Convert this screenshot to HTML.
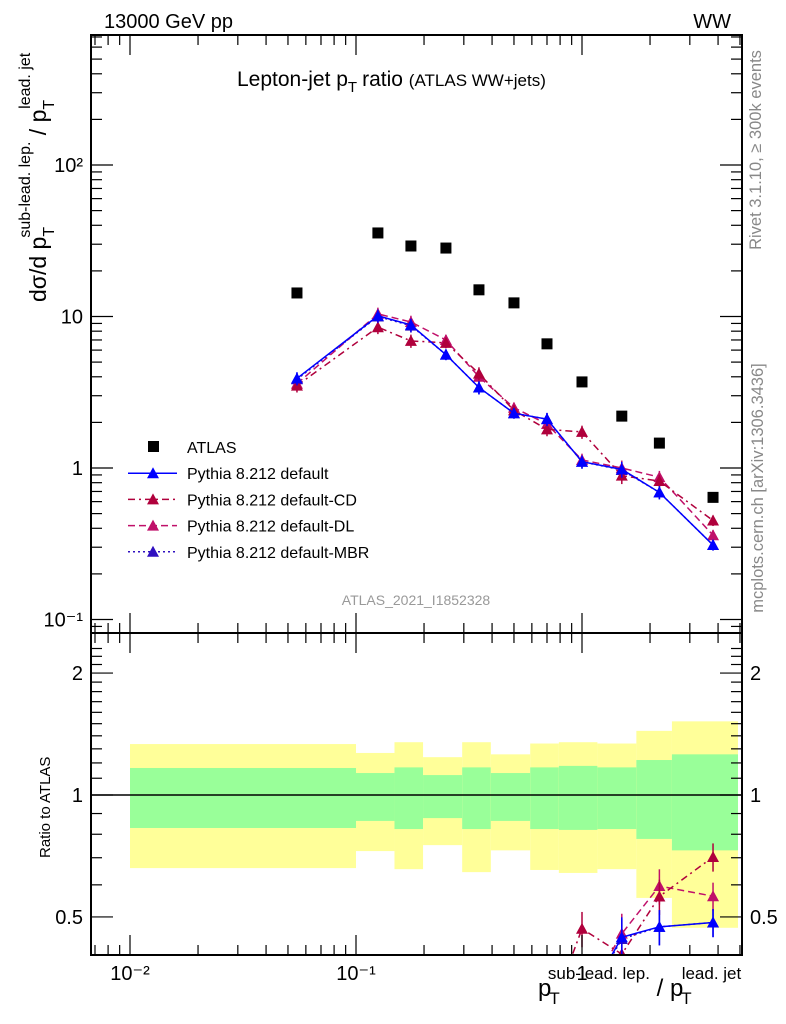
<!DOCTYPE html>
<html><head><meta charset="utf-8"><style>
body{margin:0;background:#fff;overflow:hidden}
svg{display:block;font-family:"Liberation Sans",sans-serif}
</style></head><body>
<svg id="c" width="786" height="1024" xmlns="http://www.w3.org/2000/svg">
<text x="104" y="28" font-size="20">13000 GeV pp</text>
<text x="731" y="28" font-size="20" text-anchor="end">WW</text>
<text x="237" y="86" font-size="21">Lepton-jet p<tspan font-size="15" dy="6">T</tspan><tspan dy="-6" dx="5">ratio </tspan><tspan font-size="17">(ATLAS WW+jets)</tspan></text>
<text transform="translate(761,150) rotate(-90)" font-size="16.5" fill="#888" text-anchor="middle">Rivet 3.1.10, ≥ 300k events</text>
<text transform="translate(763,488) rotate(-90)" font-size="16.5" fill="#888" text-anchor="middle">mcplots.cern.ch [arXiv:1306.3436]</text>
<text x="416" y="605" font-size="14" fill="#999" text-anchor="middle">ATLAS_2021_I1852328</text>
<text transform="translate(46,302) rotate(-90)" font-size="23">dσ/d p<tspan font-size="16" dy="8">T</tspan><tspan font-size="16" dy="-24" dx="-9">sub-lead. lep.</tspan><tspan dy="16" font-size="23"> / p</tspan><tspan font-size="16" dy="8">T</tspan><tspan font-size="16" dy="-24" dx="-9">lead. jet</tspan></text>
<text transform="translate(50,858) rotate(-90)" font-size="15">Ratio to ATLAS</text>
<text x="538" y="996" font-size="24">p<tspan font-size="17" dy="8" dx="-2">T</tspan><tspan font-size="17" dy="-25" dx="-10">sub-lead. lep.</tspan><tspan font-size="24" dy="17"> / p</tspan><tspan font-size="17" dy="8" dx="-2">T</tspan><tspan font-size="17" dy="-25" dx="-10">lead. jet</tspan></text>
<g id="g"></g>
</svg>
<script>
const xVals=[0.0548,0.125,0.175,0.25,0.35,0.5,0.7,1.0,1.5,2.2,3.8];
const binEdges=[0.01,0.1,0.148,0.198,0.295,0.395,0.59,0.79,1.17,1.74,2.5,4.9];
const atlas=[14.3,35.6,29.2,28.3,15.0,12.3,6.6,3.7,2.2,1.46,0.64];
const pyDefault=[3.9,10.1,8.8,5.6,3.4,2.3,2.1,1.1,0.98,0.69,0.31];
const pyCD=[3.5,8.5,6.9,6.7,4.2,2.4,1.8,1.73,0.89,0.82,0.45];
const pyDL=[3.6,10.4,9.2,7.0,4.0,2.5,1.95,1.13,1.0,0.87,0.36];
const pyMBR=[3.85,10.0,8.7,5.6,3.4,2.3,2.1,1.1,0.97,0.69,0.31];
const mcErr=[0.1,0.1,0.1,0.08,0.1,0.08,0.1,0.1,0.12,0.1,0.08];
const yellowHi=[1.336,1.27,1.35,1.24,1.35,1.26,1.34,1.35,1.34,1.44,1.52];
const greenHi=[1.166,1.133,1.17,1.12,1.17,1.133,1.17,1.18,1.17,1.22,1.26];
const greenLo=[0.829,0.863,0.824,0.877,0.824,0.863,0.824,0.82,0.824,0.779,0.73];
const yellowLo=[0.66,0.727,0.656,0.752,0.645,0.73,0.653,0.642,0.656,0.557,0.47];
const yTicksMain=[0.1,1,10,100];
const yTickLabels=["10⁻¹","1","10","10²"];

const L=91,R=742,T=35,MB=633,B=955;
const X=v=>582+226*Math.log10(v);
const Y=v=>468-151.5*Math.log10(v);
const YR=v=>795-405*Math.log10(v);
const NS="http://www.w3.org/2000/svg";
const g=document.getElementById('g');
function mk(tag,at,parent){const e=document.createElementNS(NS,tag);for(const k in at)e.setAttribute(k,at[k]);(parent||g).appendChild(e);return e;}

for(let i=0;i<xVals.length;i++){
  const x0=X(binEdges[i]),x1=X(binEdges[i+1]);
  let r=mk('rect',{x:x0,y:YR(yellowHi[i]),width:x1-x0,height:YR(yellowLo[i])-YR(yellowHi[i]),fill:'#ffff99'});
  
  
  r=mk('rect',{x:x0,y:YR(greenHi[i]),width:x1-x0,height:YR(greenLo[i])-YR(greenHi[i]),fill:'#99ff99'});
  
  
}
mk('line',{x1:L,x2:R,y1:YR(1),y2:YR(1),stroke:'#000','stroke-width':1.5});

const defs=mk('defs',{});
const c1=mk('clipPath',{id:'cm'},defs);mk('rect',{x:L,y:T,width:R-L,height:MB-T},c1);
const c2=mk('clipPath',{id:'cr'},defs);mk('rect',{x:L,y:MB,width:R-L,height:B-MB},c2);
const gm=mk('g',{'clip-path':'url(#cm)'});
const gr=mk('g',{'clip-path':'url(#cr)'});

const series=[
 {d:pyMBR,c:'#3010c0',dash:'2,3',n:'mbr'},
 {d:pyDL,c:'#c0106a',dash:'7,4',n:'dl'},
 {d:pyCD,c:'#b0003c',dash:'7,4,2,4',n:'cd'},
 {d:pyDefault,c:'#0000ff',dash:'',n:'default'}];
function tri(x,y,c,p,name){const t=mk('polygon',{points:`${x-6},${y+5} ${x+6},${y+5} ${x},${y-6}`,fill:c},p);
  
  }
series.forEach(s=>{
  [[gm,v=>Y(v),s.d],[gr,v=>YR(v),s.d.map((v,i)=>v/atlas[i])]].forEach(([p,fy,vals])=>{
    const pl=mk('polyline',{points:vals.map((v,i)=>X(xVals[i])+','+fy(v)).join(' '),fill:'none',stroke:s.c,'stroke-width':1.5,'stroke-dasharray':s.dash},p);
    
    
    vals.forEach((v,i)=>{const x=X(xVals[i]);
      mk('line',{x1:x,x2:x,y1:fy(v*(1+mcErr[i])),y2:fy(v*(1-mcErr[i])),stroke:s.c,'stroke-width':1.5},p);
      tri(x,fy(v),s.c,p,'point-'+s.n);});
  });
});
atlas.forEach((v,i)=>{const r=mk('rect',{x:X(xVals[i])-5.5,y:Y(v)-5.5,width:11,height:11,fill:'#000'},gm);
  
  });

mk('rect',{x:L,y:T,width:R-L,height:MB-T,fill:'none',stroke:'#000','stroke-width':2});
mk('rect',{x:L,y:MB,width:R-L,height:B-MB,fill:'none',stroke:'#000','stroke-width':2});

for(let e=-3;e<=0;e++)for(let m=1;m<10;m++){const v=m*Math.pow(10,e);const x=X(v);if(x<L||x>R)continue;
  const len=m==1?20:10;
  [[T,1],[MB,-1],[MB,1],[B,-1]].forEach(([y,d])=>mk('line',{x1:x,x2:x,y1:y,y2:y+d*len,stroke:'#000','stroke-width':1.2}));}
[[0.01,'10⁻²'],[0.1,'10⁻¹'],[1,'1']].forEach(([v,t])=>{const e=mk('text',{x:X(v),y:B+25,'font-size':20,'text-anchor':'middle'});e.textContent=t;
  
  });
for(let e=-2;e<=2;e++)for(let m=1;m<10;m++){const v=m*Math.pow(10,e);const y=Y(v);if(y<T||y>MB)continue;
  const len=m==1?22:11;
  mk('line',{x1:L,x2:L+len,y1:y,y2:y,stroke:'#000','stroke-width':1.2});mk('line',{x1:R,x2:R-len,y1:y,y2:y,stroke:'#000','stroke-width':1.2});}
yTicksMain.forEach((v,i)=>{const e=mk('text',{x:L-8,y:Y(v)+7,'font-size':20,'text-anchor':'end'});e.textContent=yTickLabels[i];
  
  });
[0.4,0.5,0.6,0.7,0.8,0.9,1,1.1,1.2,1.3,1.4,1.5,1.6,1.7,1.8,1.9,2,2.1,2.2,2.3].forEach(v=>{const y=YR(v);if(y<MB||y>B)return;
  const len=(v==0.5||v==1||v==2)?22:11;
  mk('line',{x1:L,x2:L+len,y1:y,y2:y,stroke:'#000','stroke-width':1.2});mk('line',{x1:R,x2:R-len,y1:y,y2:y,stroke:'#000','stroke-width':1.2});});
[[0.5,'0.5'],[1,'1'],[2,'2']].forEach(([v,t])=>{[[L-8,'end'],[R+8,'start']].forEach(([x,a])=>{const e=mk('text',{x:x,y:YR(v)+7,'font-size':20,'text-anchor':a});e.textContent=t;
  
  });});

const leg=[['ATLAS',null],['Pythia 8.212 default',series[3]],['Pythia 8.212 default-CD',series[2]],['Pythia 8.212 default-DL',series[1]],['Pythia 8.212 default-MBR',series[0]]];
leg.forEach(([t,s],i)=>{const y=447+26.2*i;
  if(!s){mk('rect',{x:148,y:y-6,width:11,height:11,fill:'#000'});}
  else{mk('line',{x1:128,x2:177,y1:y,y2:y,stroke:s.c,'stroke-width':1.5,'stroke-dasharray':s.dash});tri(153,y,s.c,g,'legend-marker');}
  const e=mk('text',{x:187,y:y+6,'font-size':16});e.textContent=t;
  
  });
</script>
</body></html>
